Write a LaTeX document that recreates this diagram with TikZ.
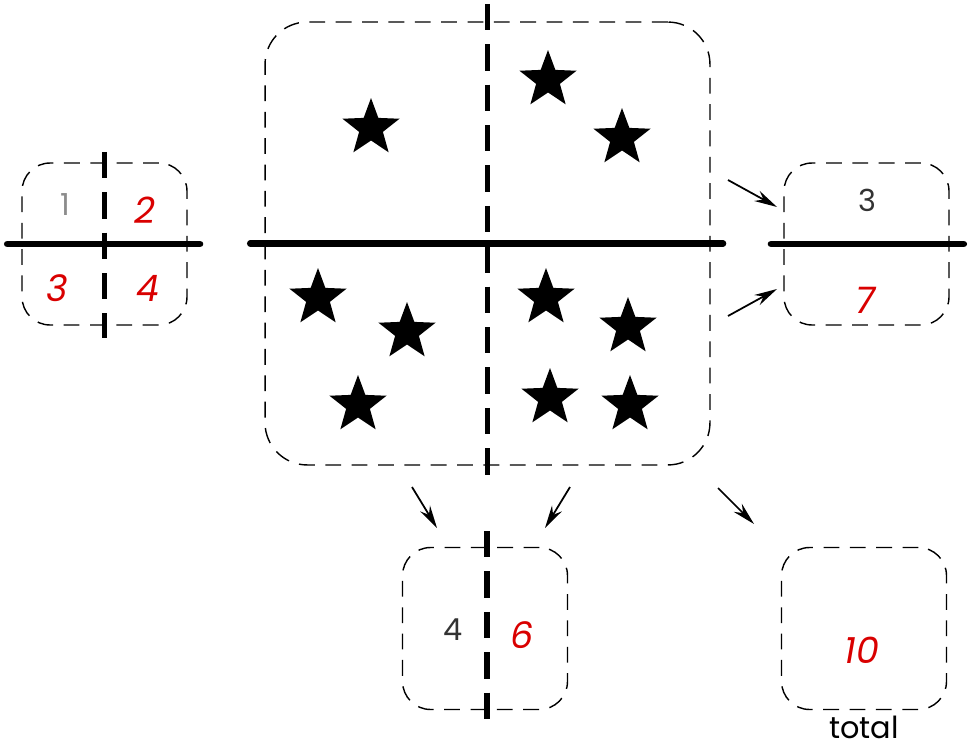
\documentclass[tikz,border=0pt]{standalone}
\usepackage{fontspec}
\setsansfont{Poppins}
\usepackage{tikz}
\usetikzlibrary{arrows.meta, positioning, shapes.geometric}

\begin{document}
\begin{tikzpicture}[
    x=0.02cm, y=-0.02cm,
    box/.style={draw, dashed, dash pattern=on 9pt off 6pt, line width=0.8pt, rounded corners=16pt, minimum width=3.3cm, minimum height=3.24cm, inner sep=0pt},
    bigbox/.style={box, rounded corners=24pt, minimum width=8.9cm, minimum height=8.86cm},
    split/.style={line width=3.8pt, line cap=round},
    splitdash/.style={line width=3.2pt, dash pattern=on 15pt off 8pt},
    starnode/.style={star, star points=5, star point ratio=2.4, fill=black, minimum size=1.2cm, inner sep=0pt},
    printed/.style={font=\sffamily\LARGE, text=black!80},
    hand/.style={font=\sffamily\itshape\huge, text=red!85!black},
    arrow/.style={-{Stealth[length=13pt, width=6.5pt]}, line width=1pt}
]
    \useasboundingbox (0,0) rectangle (969,750);

    % --- Boxes ---
    \node[box] (grid) at (104.5,244) {};
    \node[bigbox] (field) at (487.5,243.5) {};
    \node[box] (rows) at (866.5,244) {};
    \node[box] (cols) at (485,628.5) {};
    \node[box] (total) at (864,628.5) {};

    % small grid
    \draw[split] ([xshift=-8pt]grid.west) -- ([xshift=7pt]grid.east);
    \draw[splitdash] ([yshift=6pt]grid.north) -- ([yshift=-7pt]grid.south);
    \node[printed, text=black!45] (c1) at (65,205) {1};
    \node[hand] (c2) at (145,210) {2};
    \node[hand] (c3) at (57,288) {3};
    \node[hand] (c4) at (148,288) {4};

    % big field
    \draw[split] ([xshift=-8pt]field.west) -- ([xshift=7pt]field.east);
    \draw[splitdash] ([yshift=10pt]field.north) -- ([yshift=-7pt]field.south);
    \node[starnode] (s1) at (371,128) {};
    \node[starnode] (s2) at (548,80) {};
    \node[starnode] (s3) at (622,138) {};
    \node[starnode] (s4) at (318,298) {};
    \node[starnode] (s5) at (407,332) {};
    \node[starnode] (s6) at (358,405) {};
    \node[starnode] (s7) at (546,298) {};
    \node[starnode] (s8) at (628,327) {};
    \node[starnode] (s9) at (550,398) {};
    \node[starnode] (s10) at (630,405) {};

    % rows
    \draw[split] ([xshift=-7pt]rows.west) -- ([xshift=8pt]rows.east);
    \node[printed] (r1) at (867,200) {3};
    \node[hand] (r2) at (865,300) {7};

    % columns
    \draw[splitdash] ([yshift=9pt,xshift=1pt]cols.north) -- ([yshift=-10pt,xshift=1pt]cols.south);
    \node[printed] (k1) at (453,630) {4};
    \node[hand] (k2) at (522,635) {6};

    % total
    \node[hand] (t1) at (862,650) {10};
    \node[font=\sffamily\LARGE, below=0cm of total] (tlabel) {total};

    % --- Connections ---
    \coordinate (a1) at (728,180);
    \coordinate (b1) at (777,207);
    \coordinate (a2) at (728,316);
    \coordinate (b2) at (777,289);
    \coordinate (a3) at (412,487);
    \coordinate (b3) at (437,528);
    \coordinate (a4) at (570,487);
    \coordinate (b4) at (545,528);
    \coordinate (a5) at (718,488);
    \coordinate (b5) at (754,524);
    \draw[arrow] (a1) -- (b1);
    \draw[arrow] (a2) -- (b2);
    \draw[arrow] (a3) -- (b3);
    \draw[arrow] (a4) -- (b4);
    \draw[arrow] (a5) -- (b5);

\end{tikzpicture}
\end{document}
